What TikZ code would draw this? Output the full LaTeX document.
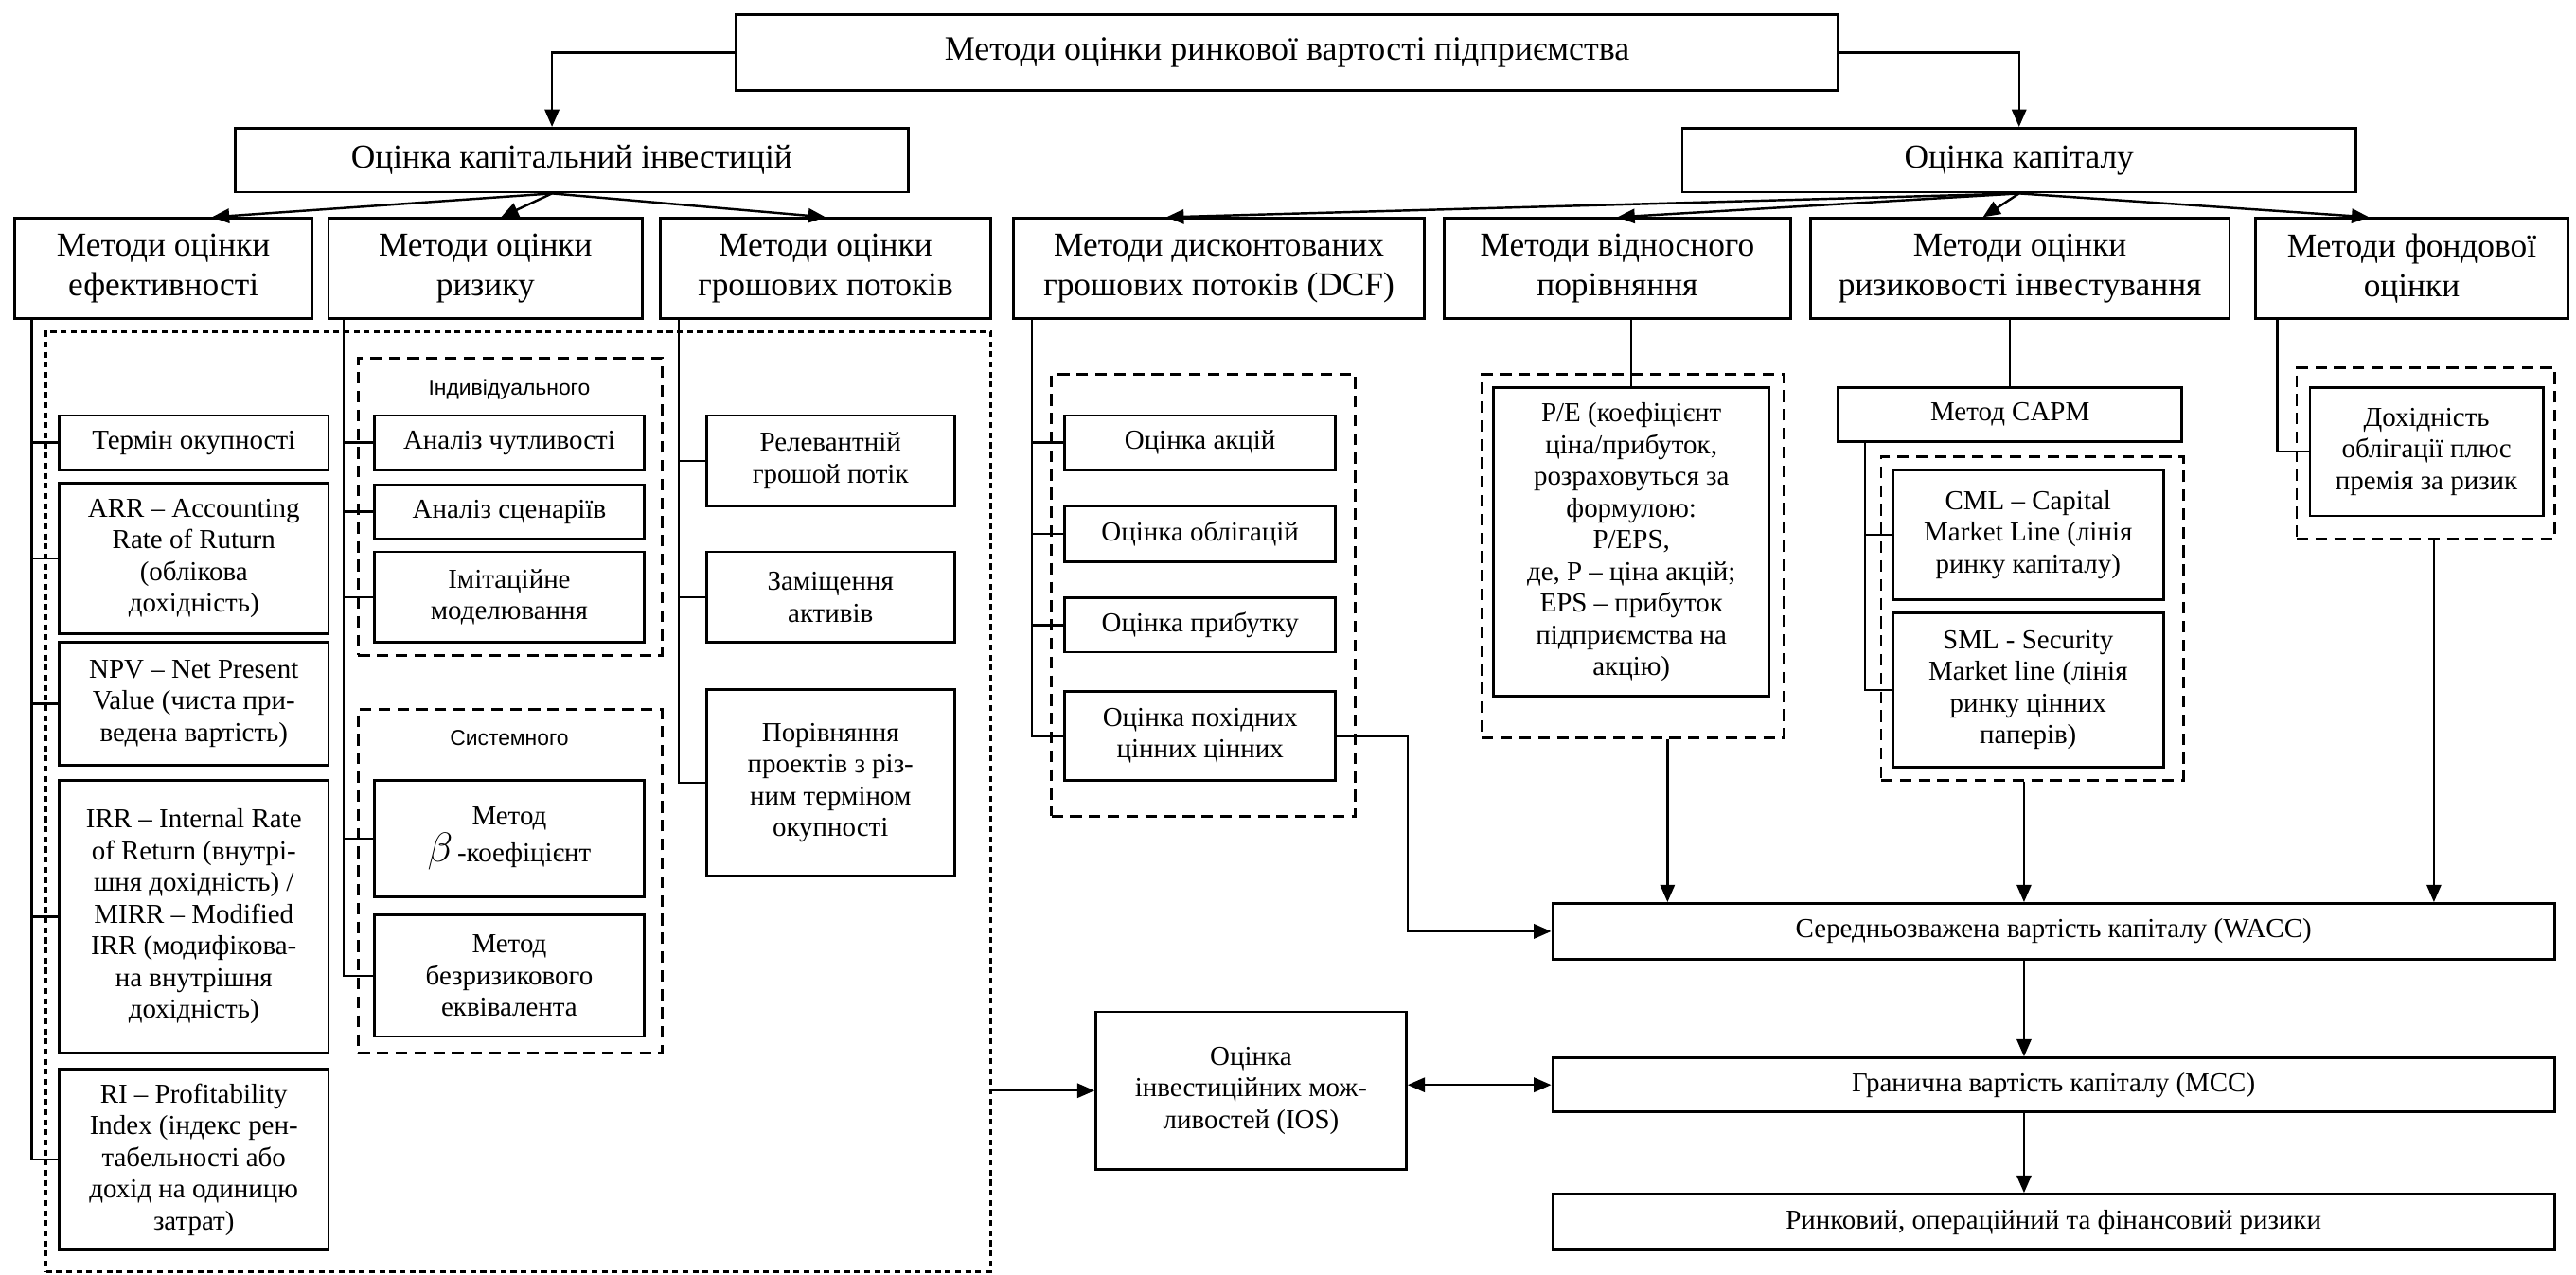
\documentclass[tikz,border=0pt]{standalone}
\usepackage{fontspec}
\setmainfont{Liberation Serif}
\newfontfamily\labelfont{Liberation Sans}
\usepackage{tikz}
\usetikzlibrary{arrows.meta,positioning}

\newcommand{\bigtxt}{\fontsize{11.6}{13.6}\selectfont}
\newcommand{\smtxt}{\fontsize{9.5}{11}\selectfont}
\newcommand{\lbltxt}{\labelfont\fontsize{7.5}{9}\selectfont}

\begin{document}
\begin{tikzpicture}[x=0.02cm,y=-0.02cm,
    box/.style={draw,line width=0.9pt,align=center,inner sep=1pt,font=\smtxt},
    head/.style={box,font=\bigtxt},
    grp/.style={draw,line width=0.9pt,dash pattern=on 4pt off 2.5pt},
    bigdash/.style={draw,line width=0.9pt,dash pattern=on 2pt off 1.5pt},
    wh/.style 2 args={minimum width=#1*0.02cm,minimum height=#2*0.02cm},
    link/.style={line width=0.8pt},
    arr/.style={link,-{Triangle[length=6pt,width=5pt]}}]
  \useasboundingbox (0,0) rectangle (1568,776);

  % levels 1 and 2
  \node[head,wh={671}{46},font=\fontsize{11.8}{13.6}\selectfont] (top) at (783.5,32)
    {Методи оцінки ринкової вартості підприємства};
  \node[head,wh={410}{39}] (inv) at (348,97.5) {Оцінка капітальний інвестицій};
  \node[head,wh={410}{39}] (kap) at (1229,97.5) {Оцінка капіталу};

  % level 3
  \node[head,wh={181}{61}] (ef) at (99.5,163.5) {Методи оцінки\\ефективності};
  \node[head,wh={191}{61}] (ryz) at (295.5,163.5) {Методи оцінки\\ризику};
  \node[head,wh={201}{61}] (gr) at (502.5,163.5) {Методи оцінки\\грошових потоків};
  \node[head,wh={250}{61}] (dcf) at (742,163.5) {Методи дисконтованих\\грошових потоків (DCF)};
  \node[head,wh={211}{61}] (vidn) at (984.5,163.5) {Методи відносного\\порівняння};
  \node[head,wh={255}{61}] (ryzk) at (1229.5,163.5) {Методи оцінки\\ризиковості інвестування};
  \node[head,wh={190}{61}] (fond) at (1468,163.5) {Методи фондової\\оцінки};

  \draw[arr] (top.west) -| ([xshift=-0.24cm]inv.north);
  \draw[arr] (top.east) -| (kap.north);
  \draw[arr] ([xshift=-0.24cm]inv.south) -- ([xshift=0.59cm]ef.north);
  \draw[arr] ([xshift=-0.24cm]inv.south) -- ([xshift=0.19cm]ryz.north);
  \draw[arr] ([xshift=-0.24cm]inv.south) -- (gr.north);
  \draw[arr] (kap.south) -- ([xshift=-0.64cm]dcf.north);
  \draw[arr] (kap.south) -- (vidn.north);
  \draw[arr] (kap.south) -- ([xshift=-0.45cm]ryzk.north);
  \draw[arr] (kap.south) -- ([xshift=-0.52cm]fond.north);

  % capital investment block
  \node[bigdash,wh={575}{572}] (effbox) at (315.5,488) {};
  \node[grp,wh={185}{181}] (indiv) at (310.5,308.5) {};
  \node[grp,wh={185}{209}] (syst) at (310.5,536.5) {};
  \node[font=\lbltxt] (indivlbl) at (310,237) {Індивідуального};
  \node[font=\lbltxt] (systlbl) at (310,449) {Системного};

  \node[box,wh={164}{33}] (term) at (118,269.5) {Термін окупності};
  \node[box,wh={164}{92}] (arrn) at (118,340)
    {ARR – Accounting\\Rate of Ruturn\\(облікова\\дохідність)};
  \node[box,wh={164}{75}] (npv) at (118,428.5)
    {NPV – Net Present\\Value (чиста при-\\ведена вартість)};
  \node[box,wh={164}{166}] (irr) at (118,558)
    {IRR – Internal Rate\\of Return (внутрі-\\шня дохідність) /\\MIRR – Modified\\IRR (модифікова-\\на внутрішня\\дохідність)};
  \node[box,wh={164}{110}] (ri) at (118,706)
    {RI – Profitability\\Index (індекс рен-\\табельності або\\дохід на одиницю\\затрат)};

  \node[box,wh={164}{33}] (chut) at (310,269.5) {Аналіз чутливості};
  \node[box,wh={164}{33}] (scen) at (310,311.5) {Аналіз сценаріїв};
  \node[box,wh={164}{55}] (imit) at (310,363.5) {Імітаційне\\моделювання};
  \node[box,wh={164}{71}] (beta) at (310,510.5)
    {Метод\\{\Large$\beta$}\,-коефіцієнт};
  \node[box,wh={164}{74}] (bez) at (310,594) {Метод\\безризикового\\еквівалента};

  \node[box,wh={151}{55}] (rel) at (505.5,280.5) {Релевантній\\грошой потік};
  \node[box,wh={151}{55}] (zam) at (505.5,363.5) {Заміщення\\активів};
  \node[box,wh={151}{113}] (por) at (505.5,476.5)
    {Порівняння\\проектів з різ-\\ним терміном\\окупності};

  \coordinate (efl) at ([xshift=0.22cm]ef.south west);
  \draw[link] (efl) |- (ri.west);
  \foreach \b in {term,arrn,npv,irr} \draw[link] (efl |- \b.west) -- (\b.west);
  \coordinate (ryzl) at ([xshift=0.2cm]ryz.south west);
  \draw[link] (ryzl) |- (bez.west);
  \foreach \b in {chut,scen,imit,beta} \draw[link] (ryzl |- \b.west) -- (\b.west);
  \coordinate (grl) at ([xshift=0.24cm]gr.south west);
  \draw[link] (grl) |- (por.west);
  \foreach \b in {rel,zam} \draw[link] (grl |- \b.west) -- (\b.west);

  % capital block
  \node[grp,wh={185}{269}] (dcfdash) at (732.5,362.5) {};
  \node[box,wh={165}{33}] (akc) at (730.5,269.5) {Оцінка акцій};
  \node[box,wh={165}{34}] (obl) at (730.5,325) {Оцінка облігацій};
  \node[box,wh={165}{33}] (prib) at (730.5,380.5) {Оцінка прибутку};
  \node[box,wh={165}{54}] (poh) at (730.5,448) {Оцінка похідних\\цінних цінних};
  \coordinate (dcfl) at ([xshift=0.24cm]dcf.south west);
  \draw[link] (dcfl) |- (poh.west);
  \foreach \b in {akc,obl,prib} \draw[link] (dcfl |- \b.west) -- (\b.west);

  \node[grp,wh={184}{221}] (pedash) at (994,338.5) {};
  \node[box,wh={168}{188}] (pe) at (993,330)
    {P/E (коефіцієнт\\ціна/прибуток,\\розраховуться за\\формулою:\\P/EPS,\\де, P – ціна акцій;\\EPS – прибуток\\підприємства на\\акцію)};
  \draw[link] (pe.north) -- (pe.north |- vidn.south);

  \node[box,wh={209}{33}] (capm) at (1223.5,252.5) {Метод CAPM};
  \node[grp,wh={184}{197}] (cmldash) at (1237,376.5) {};
  \node[box,wh={165}{79}] (cml) at (1234.5,325.5)
    {CML – Capital\\Market Line (лінія\\ринку капіталу)};
  \node[box,wh={165}{94}] (sml) at (1234.5,420)
    {SML - Security\\Market line (лінія\\ринку цінних\\паперів)};
  \draw[link] (capm.north) -- (capm.north |- ryzk.south);
  \coordinate (capml) at ([xshift=0.34cm]capm.south west);
  \draw[link] (capml) |- (sml.west);
  \draw[link] (capml |- cml.west) -- (cml.west);

  \node[grp,wh={157}{104}] (fonddash) at (1476.5,276) {};
  \node[box,wh={142}{78}] (dox) at (1477,275)
    {Дохідність\\облігації плюс\\премія за ризик};
  \draw[link] ([xshift=0.28cm]fond.south west) |- (dox.west);

  % result chain
  \node[box,wh={610}{34}] (wacc) at (1250,567) {Середньозважена вартість капіталу (WACC)};
  \node[box,wh={610}{33}] (mcc) at (1250,660.5) {Гранична вартість капіталу (MCC)};
  \node[box,wh={610}{34}] (ris) at (1250,744) {Ринковий, операційний та фінансовий ризики};
  \node[box,wh={189}{96}] (ios) at (761.5,664)
    {Оцінка\\інвестиційних мож-\\ливостей (IOS)};

  \draw[arr] (poh.east) -- ++(0.86cm,0) |- (wacc.west);
  \draw[arr] ([xshift=0.42cm]pedash.south) -- ([xshift=0.42cm]pedash.south |- wacc.north);
  \draw[arr] ([xshift=-0.1cm]cmldash.south) -- ([xshift=-0.1cm]cmldash.south |- wacc.north);
  \draw[arr] ([xshift=0.1cm]fonddash.south) -- ([xshift=0.1cm]fonddash.south |- wacc.north);
  \draw[arr] ([xshift=-0.36cm]wacc.south) -- ([xshift=-0.36cm]mcc.north);
  \draw[arr] ([xshift=-0.36cm]mcc.south) -- ([xshift=-0.36cm]ris.north);
  \draw[arr] (effbox.east |- ios.west) -- (ios.west);
  \draw[link,{Triangle[length=6pt,width=5pt]}-{Triangle[length=6pt,width=5pt]}]
    (ios.east |- mcc.west) -- (mcc.west);
\end{tikzpicture}
\end{document}
